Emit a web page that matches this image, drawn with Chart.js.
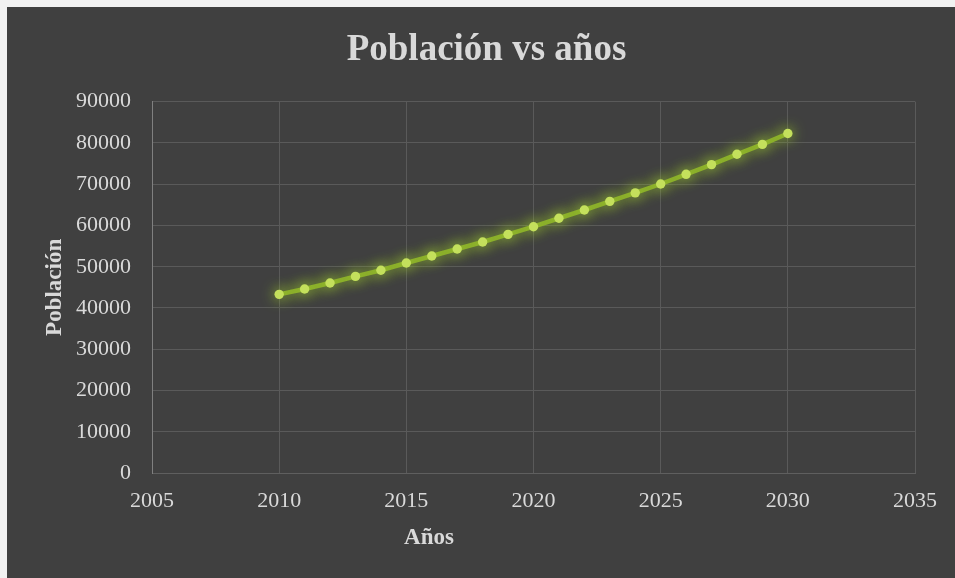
<!DOCTYPE html>
<html>
<head>
<meta charset="utf-8">
<script src="https://cdn.jsdelivr.net/npm/chart.js@4/dist/chart.umd.min.js"></script>
<style>
  html, body { margin: 0; padding: 0; background: #f2f2f2; }
  #wrap { position: absolute; left: 7px; top: 7px; width: 948px; height: 571px; background: #404040; }
</style>
</head>
<body>
<div id="wrap"><canvas id="c"></canvas></div>
<script>
const years = [2010, 2011, 2012, 2013, 2014, 2015, 2016, 2017, 2018, 2019, 2020,
               2021, 2022, 2023, 2024, 2025, 2026, 2027, 2028, 2029, 2030];
const poblacion = [43300, 44600, 46050, 47650, 49150, 50900, 52600, 54300, 56000, 57850, 59700,
                   61750, 63750, 65850, 67900, 70050, 72400, 74750, 77250, 79650, 82300];
const chartTitle = 'Población vs años';
const xTitle = 'Años';
const yTitle = 'Población';

const FONT = '"Liberation Serif", "DejaVu Serif", serif';
const TEXT = '#d9d9d9';

const glow = {
  id: 'glow',
  beforeDatasetsDraw(chart) {
    const c = chart.ctx;
    c.save();
    c.shadowColor = 'rgba(165, 215, 40, 0.9)';
    c.shadowBlur = 14;
  },
  afterDatasetsDraw(chart) { chart.ctx.restore(); }
};

// Chart title and x-axis title placed as in the reference (not centred on the plot)
const titles = {
  id: 'titles',
  afterDraw(chart) {
    const c = chart.ctx;
    c.save();
    c.fillStyle = TEXT;
    c.textAlign = 'center';
    c.textBaseline = 'alphabetic';
    c.font = 'bold 37px ' + FONT;
    c.fillText(chartTitle, 479.5, 52.5);
    c.font = 'bold 23px ' + FONT;
    c.fillText(xTitle, 422, 536.5);
    c.restore();
  }
};

new Chart(document.getElementById('c'), {
  type: 'scatter',
  data: {
    datasets: [{
      data: years.map((y, i) => ({ x: y, y: poblacion[i] })),
      showLine: true,
      borderColor: '#8aad2c',
      borderWidth: 4.5,
      pointRadius: 4.7,
      pointHoverRadius: 4.7,
      pointBackgroundColor: '#c4e05c',
      pointBorderColor: '#c4e05c',
      pointBorderWidth: 0,
      tension: 0
    }]
  },
  options: {
    responsive: true,
    maintainAspectRatio: false,
    animation: false,
    layout: { padding: { left: 0, right: 40, top: 94.7, bottom: 15 } },
    plugins: {
      legend: { display: false },
      tooltip: { enabled: false },
      title: { display: false }
    },
    scales: {
      x: {
        type: 'linear',
        min: 2005, max: 2035,
        afterFit(s) { s.height = 90; },
        ticks: {
          stepSize: 5,
          color: TEXT,
          padding: 15,
          font: { family: FONT, size: 22 },
          callback: v => String(v)
        },
        grid: { color: '#5a5a5a', lineWidth: 1, drawTicks: false },
        border: { color: '#5f5f5f', width: 1 },
        title: { display: false, text: xTitle }
      },
      y: {
        type: 'linear',
        min: 0, max: 90000,
        afterFit(s) { s.width = 145; },
        ticks: {
          stepSize: 10000,
          color: TEXT,
          padding: 21,
          font: { family: FONT, size: 22 },
          callback: v => String(v)
        },
        grid: { color: '#5a5a5a', lineWidth: 1, drawTicks: false },
        border: { color: '#808080', width: 1 },
        title: {
          display: true,
          text: yTitle,
          color: TEXT,
          font: { family: FONT, size: 23, weight: 'bold' },
          padding: { top: 34, bottom: 0 }
        }
      }
    }
  },
  plugins: [glow, titles]
});
</script>
</body>
</html>
